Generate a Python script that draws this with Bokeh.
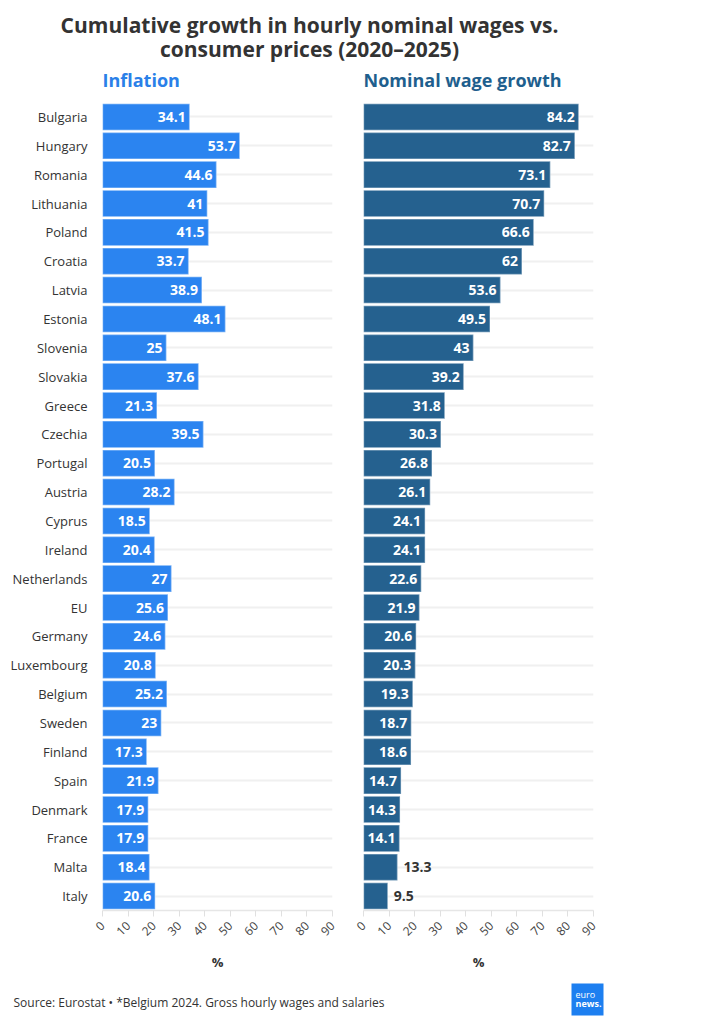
import math
from bokeh.plotting import figure
from bokeh.models import (ColumnDataSource, FactorRange, Range1d, Label, FixedTicker,
                          BoxAnnotation)
from bokeh.layouts import column, row
from bokeh.core.properties import value
from bokeh.embed import file_html
from bokeh.resources import INLINE

# ---------------- data ----------------
countries = ["Bulgaria", "Hungary", "Romania", "Lithuania", "Poland", "Croatia", "Latvia",
             "Estonia", "Slovenia", "Slovakia", "Greece", "Czechia", "Portugal", "Austria",
             "Cyprus", "Ireland", "Netherlands", "EU", "Germany", "Luxembourg", "Belgium",
             "Sweden", "Finland", "Spain", "Denmark", "France", "Malta", "Italy"]
inflation = [34.1, 53.7, 44.6, 41, 41.5, 33.7, 38.9, 48.1, 25, 37.6, 21.3, 39.5, 20.5, 28.2,
             18.5, 20.4, 27, 25.6, 24.6, 20.8, 25.2, 23, 17.3, 21.9, 17.9, 17.9, 18.4, 20.6]
wages = [84.2, 82.7, 73.1, 70.7, 66.6, 62, 53.6, 49.5, 43, 39.2, 31.8, 30.3, 26.8, 26.1,
         24.1, 24.1, 22.6, 21.9, 20.6, 20.3, 19.3, 18.7, 18.6, 14.7, 14.3, 14.1, 13.3, 9.5]
x_ticks = [0, 10, 20, 30, 40, 50, 60, 70, 80, 90]
x_max = 90

title_lines = ["Cumulative growth in hourly nominal wages vs.", "consumer prices (2020–2025)"]
panel_titles = ["Inflation", "Nominal wage growth"]
source_text = "Source: Eurostat • *Belgium 2024. Gross hourly wages and salaries"

FONT = "Open Sans"
INF_COLOR = "#2b84f0"
WAGE_COLOR = "#25618f"
INF_TITLE_COLOR = "#2a80e8"
WAGE_TITLE_COLOR = "#1f5f8e"
TEXT = "#333333"
LABEL_FIT = 14  # values below this do not fit a label inside the bar

TOTAL_W = 697
LEFT_W = 347
RIGHT_W = TOTAL_W - LEFT_W
TOP_H = 95
MID_H = 880
BOT_H = 41


def fmt(v):
    return f"{v:g}"


def panel(vals, color, width, border_left, border_right, show_y):
    p = figure(width=width, height=MID_H, output_backend="svg", toolbar_location=None,
               y_range=FactorRange(factors=list(reversed(countries)), range_padding=0),
               x_range=Range1d(0, x_max),
               min_border_left=border_left, min_border_right=border_right,
               min_border_top=7, min_border_bottom=65)
    p.outline_line_color = None
    p.background_fill_color = "white"
    p.border_fill_color = "white"

    src = ColumnDataSource(dict(c=countries, v=vals))
    p.hbar(y="c", right="v", left=0, height=0.92, source=src, fill_color=color,
           line_color="white", line_alpha=0.35, line_width=1.5)

    inside = [(c, v) for c, v in zip(countries, vals) if v >= LABEL_FIT]
    outside = [(c, v) for c, v in zip(countries, vals) if v < LABEL_FIT]
    if inside:
        s_in = ColumnDataSource(dict(c=[a for a, _ in inside], v=[b for _, b in inside],
                                     t=[fmt(b) for _, b in inside]))
        p.text(x="v", y="c", text="t", source=s_in, x_offset=-4, text_align="right",
               text_baseline="middle", text_color="white", text_font=value(FONT),
               text_font_style="bold", text_font_size="14px")
    if outside:
        s_out = ColumnDataSource(dict(c=[a for a, _ in outside], v=[b for _, b in outside],
                                      t=[fmt(b) for _, b in outside]))
        p.text(x="v", y="c", text="t", source=s_out, x_offset=6, text_align="left",
               text_baseline="middle", text_color=TEXT, text_font=value(FONT),
               text_font_style="bold", text_font_size="14px")

    p.xgrid.grid_line_color = None
    p.ygrid.grid_line_color = "#f0f0f0"
    p.ygrid.grid_line_width = 2
    p.ygrid.level = "underlay"

    xa = p.xaxis[0]
    xa.ticker = FixedTicker(ticks=x_ticks)
    xa.axis_line_color = "#e6e6e6"
    xa.axis_line_width = 1.5
    xa.major_tick_line_color = "#e0e0e0"
    xa.major_tick_out = 6
    xa.major_tick_in = 0
    xa.minor_tick_line_color = None
    xa.major_label_orientation = math.pi / 4
    xa.major_label_text_font = FONT
    xa.major_label_text_font_size = "12px"
    xa.major_label_text_color = "#444444"
    xa.major_label_standoff = 7
    xa.axis_label = "%"
    xa.axis_label_text_font = FONT
    xa.axis_label_text_font_style = "bold"
    xa.axis_label_text_font_size = "13px"
    xa.axis_label_text_color = TEXT
    xa.axis_label_standoff = 10

    ya = p.yaxis[0]
    if show_y:
        ya.axis_line_color = None
        ya.major_tick_line_color = None
        ya.minor_tick_line_color = None
        ya.major_label_text_font = FONT
        ya.major_label_text_font_size = "13px"
        ya.major_label_text_color = TEXT
        ya.major_label_standoff = 9
    else:
        ya.visible = False
    return p


left = panel(inflation, INF_COLOR, LEFT_W, 102, 15, True)
right = panel(wages, WAGE_COLOR, RIGHT_W, 16, RIGHT_W - 16 - 230, False)

# ---------------- header ----------------
top = figure(width=TOTAL_W, height=TOP_H, output_backend="svg", toolbar_location=None,
             x_range=Range1d(0, TOTAL_W), y_range=Range1d(0, TOP_H), min_border=0)
top.axis.visible = False
top.grid.visible = False
top.outline_line_color = None
top.add_layout(Label(x=309, y=TOP_H - 24, text=title_lines[0], text_align="center",
                     text_baseline="middle", text_font=FONT, text_font_style="bold",
                     text_font_size="21px", text_color=TEXT))
top.add_layout(Label(x=309, y=TOP_H - 48, text=title_lines[1], text_align="center",
                     text_baseline="middle", text_font=FONT, text_font_style="bold",
                     text_font_size="21px", text_color=TEXT))
top.add_layout(Label(x=102, y=TOP_H - 79, text=panel_titles[0], text_align="left",
                     text_baseline="middle", text_font=FONT, text_font_style="bold",
                     text_font_size="18px", text_color=INF_TITLE_COLOR))
top.add_layout(Label(x=363, y=TOP_H - 79, text=panel_titles[1], text_align="left",
                     text_baseline="middle", text_font=FONT, text_font_style="bold",
                     text_font_size="18px", text_color=WAGE_TITLE_COLOR))

# ---------------- footer ----------------
bottom = figure(width=TOTAL_W, height=BOT_H, output_backend="svg", toolbar_location=None,
                x_range=Range1d(0, TOTAL_W), y_range=Range1d(0, BOT_H), min_border=0)
bottom.axis.visible = False
bottom.grid.visible = False
bottom.outline_line_color = None
bottom.add_layout(Label(x=13, y=BOT_H - 27, text=source_text, text_align="left",
                        text_baseline="middle", text_font=FONT, text_font_size="12px",
                        text_color=TEXT))
bottom.add_layout(BoxAnnotation(left=571, right=603, bottom=BOT_H - 40, top=BOT_H - 8,
                                fill_color="#1d7ff0", fill_alpha=1, line_color=None))
bottom.add_layout(Label(x=575, y=BOT_H - 19, text="euro", text_align="left",
                        text_baseline="middle", text_font=FONT, text_font_size="9px",
                        text_color="white"))
bottom.add_layout(Label(x=575, y=BOT_H - 28, text="news.", text_align="left",
                        text_baseline="middle", text_font=FONT, text_font_style="bold",
                        text_font_size="9px", text_color="white"))

layout = column(top, row(left, right), bottom, spacing=0)
open("out.html", "w").write(file_html(layout, INLINE))
